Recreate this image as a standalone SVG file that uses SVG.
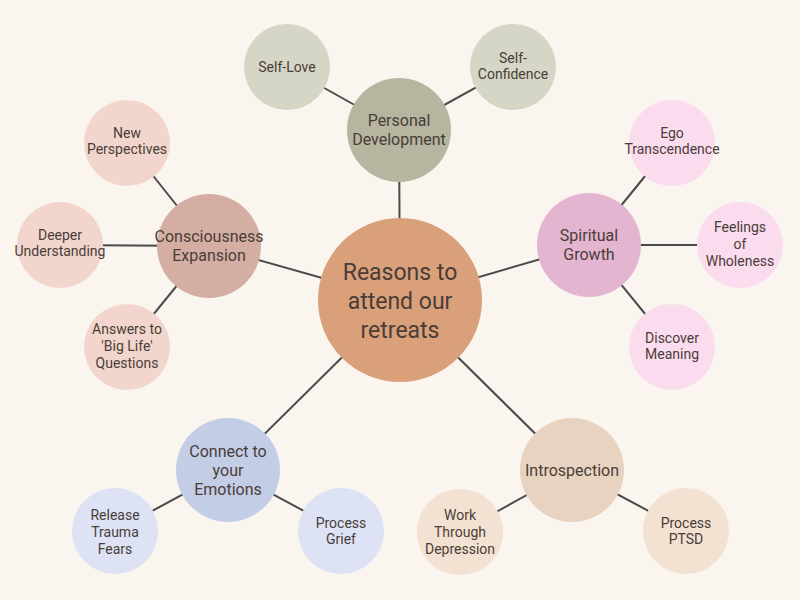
<svg xmlns="http://www.w3.org/2000/svg" width="800" height="600" viewBox="0 0 800 600">
<style>
text{font-family:Roboto,"Liberation Sans",sans-serif;fill:#4a3d38;text-anchor:middle}
.s{font-size:14px}.m{font-size:16px}.l{font-size:23px}
#edges line{stroke:#4a4a4a;stroke-width:2}
</style>
<rect width="800" height="600" fill="#faf5ef"/>
<g id="edges">
<line x1="400" y1="300" x2="399" y2="130"/><line x1="399" y1="130" x2="287" y2="67"/><line x1="399" y1="130" x2="513" y2="67"/>
<line x1="400" y1="300" x2="589" y2="245"/><line x1="589" y1="245" x2="672" y2="143"/><line x1="589" y1="245" x2="740" y2="245"/><line x1="589" y1="245" x2="672" y2="347"/>
<line x1="400" y1="300" x2="572" y2="470"/><line x1="572" y1="470" x2="460" y2="532"/><line x1="572" y1="470" x2="686" y2="531"/>
<line x1="400" y1="300" x2="228" y2="470"/><line x1="228" y1="470" x2="115" y2="531"/><line x1="228" y1="470" x2="341" y2="531"/>
<line x1="400" y1="300" x2="209" y2="246"/><line x1="209" y1="246" x2="127" y2="143"/><line x1="209" y1="246" x2="60" y2="245"/><line x1="209" y1="246" x2="127" y2="347"/>
</g>
<g id="center"><circle cx="400" cy="300" r="82" fill="#d9a07a"/><text class="l" x="400" y="280">Reasons to</text><text class="l" x="400" y="309">attend our</text><text class="l" x="400" y="338">retreats</text></g>
<g id="pd"><circle cx="399" cy="130" r="52" fill="#b5b5a0"/><text class="m" x="399" y="126">Personal</text><text class="m" x="399" y="145">Development</text></g>
<g id="sl"><circle cx="287" cy="67" r="43" fill="#d5d6c5"/><text class="s" x="287" y="72">Self-Love</text></g>
<g id="sc"><circle cx="513" cy="67" r="43" fill="#d5d6c5"/><text class="s" x="513" y="63">Self-</text><text class="s" x="513" y="79">Confidence</text></g>
<g id="sg"><circle cx="589" cy="245" r="52" fill="#e3b5d0"/><text class="m" x="589" y="241">Spiritual</text><text class="m" x="589" y="260">Growth</text></g>
<g id="et"><circle cx="672" cy="143" r="43" fill="#fbdcef"/><text class="s" x="672" y="138">Ego</text><text class="s" x="672" y="154">Transcendence</text></g>
<g id="fw"><circle cx="740" cy="245" r="43" fill="#fbdcef"/><text class="s" x="740" y="232">Feelings</text><text class="s" x="740" y="249">of</text><text class="s" x="740" y="266">Wholeness</text></g>
<g id="dm"><circle cx="672" cy="347" r="43" fill="#fbdcef"/><text class="s" x="672" y="343">Discover</text><text class="s" x="672" y="359">Meaning</text></g>
<g id="in"><circle cx="572" cy="470" r="52" fill="#e8d3c0"/><text class="m" x="572" y="476">Introspection</text></g>
<g id="wd"><circle cx="460" cy="532" r="43" fill="#f3e2d2"/><text class="s" x="460" y="520">Work</text><text class="s" x="460" y="537">Through</text><text class="s" x="460" y="554">Depression</text></g>
<g id="pp"><circle cx="686" cy="531" r="43" fill="#f3e2d2"/><text class="s" x="686" y="528">Process</text><text class="s" x="686" y="544">PTSD</text></g>
<g id="ce"><circle cx="228" cy="470" r="52" fill="#c4cde6"/><text class="m" x="228" y="457">Connect to</text><text class="m" x="228" y="476">your</text><text class="m" x="228" y="495">Emotions</text></g>
<g id="rt"><circle cx="115" cy="531" r="43" fill="#dde3f5"/><text class="s" x="115" y="520">Release</text><text class="s" x="115" y="537">Trauma</text><text class="s" x="115" y="554">Fears</text></g>
<g id="pg"><circle cx="341" cy="531" r="43" fill="#dde3f5"/><text class="s" x="341" y="528">Process</text><text class="s" x="341" y="544">Grief</text></g>
<g id="cx"><circle cx="209" cy="246" r="52" fill="#d4aea3"/><text class="m" x="209" y="242">Consciousness</text><text class="m" x="209" y="261">Expansion</text></g>
<g id="np"><circle cx="127" cy="143" r="43" fill="#f2d6cd"/><text class="s" x="127" y="138">New</text><text class="s" x="127" y="154">Perspectives</text></g>
<g id="du"><circle cx="60" cy="245" r="43" fill="#f2d6cd"/><text class="s" x="60" y="240">Deeper</text><text class="s" x="60" y="256">Understanding</text></g>
<g id="an"><circle cx="127" cy="347" r="43" fill="#f2d6cd"/><text class="s" x="127" y="334">Answers to</text><text class="s" x="127" y="351">'Big Life'</text><text class="s" x="127" y="368">Questions</text></g>
</svg>
